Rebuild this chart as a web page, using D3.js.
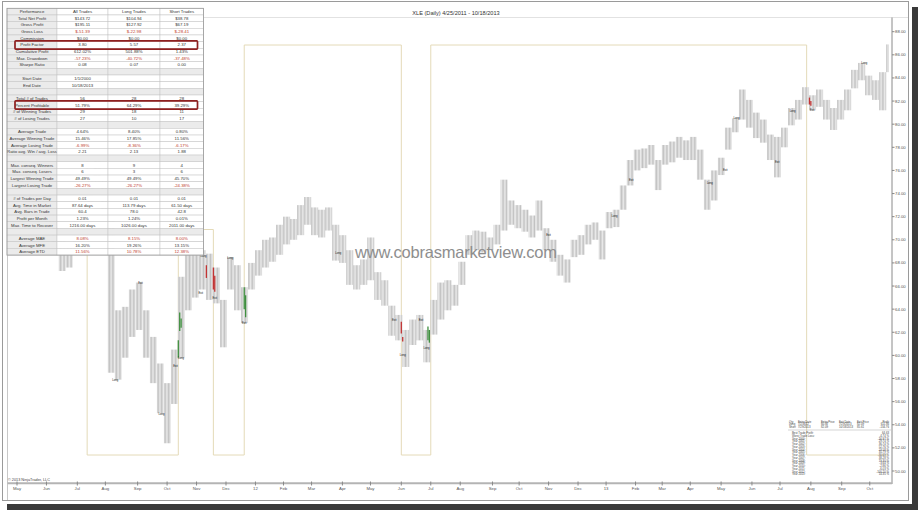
<!DOCTYPE html>
<html><head><meta charset="utf-8">
<script src="https://cdn.jsdelivr.net/npm/d3@7"></script>
<style>
html,body{margin:0;padding:0;background:#fff;}
svg{display:block;font-family:"Liberation Sans",Arial,sans-serif;}
</style></head>
<body><svg id="c" width="920" height="512"></svg>
<script>
(function(){
// ---------------- DATA ----------------
const title = "XLE (Daily) 4/25/2011 - 10/18/2013";
const firstDay = "2011-04-25", lastDay = "2013-10-18";
const holidays = ["2011-05-30","2011-07-04","2011-09-05","2011-11-24","2011-12-26",
 "2012-01-02","2012-01-16","2012-02-20","2012-04-06","2012-05-28","2012-07-04","2012-09-03",
 "2012-10-29","2012-10-30","2012-11-22","2012-12-25",
 "2013-01-01","2013-01-21","2013-02-18","2013-03-29","2013-05-27","2013-07-04","2013-09-02"];
const monthNames = ["Jan","Feb","Mar","Apr","May","Jun","Jul","Aug","Sep","Oct","Nov","Dec"];
const priceTicks = [50,52,54,56,58,60,62,64,66,68,70,72,74,76,78,80,82,84,86,88];

// price bars, one per 5 trading sessions (high / low)
const barHigh = [78.0,77.0,75.0,74.5,74.5,74.0,72.5,70.0,69.8,72.5,75.0,75.5,77.0,75.5,72.0,63.9,
 64.2,65.7,66.3,63.9,61.6,59.3,57.6,60.5,66.8,69.1,69.1,69.1,68.8,67.6,64.8,68.5,67.8,65.9,68.0,
 69.1,70.0,70.2,71.3,72.0,71.8,73.0,73.7,72.8,72.6,72.8,71.3,70.4,69.1,67.8,68.3,70.2,67.2,66.5,
 64.3,63.5,62.2,63.1,63.5,62.2,64.8,66.3,66.5,66.1,68.1,70.4,70.8,70.7,70.2,71.3,75.2,73.4,73.0,
 72.6,72.1,73.4,71.0,70.0,68.7,68.3,70.0,70.4,71.3,71.5,70.8,72.4,72.6,74.7,76.9,77.8,77.9,78.2,
 76.9,78.2,78.5,78.9,78.6,78.9,77.8,75.2,76.0,77.1,79.7,80.5,83.0,82.1,81.0,80.4,79.1,78.9,79.7,
 81.4,82.1,83.2,82.5,83.0,82.1,81.4,82.1,83.0,84.7,85.3,84.2,83.8,84.5,86.9];
const barLow = [76.0,73.5,72.5,72.0,72.5,71.5,69.5,67.3,67.6,69.0,72.0,73.0,74.5,72.0,58.5,57.9,
 59.8,61.6,62.2,59.8,57.6,55.0,52.4,55.8,59.8,63.9,65.0,65.7,64.8,64.5,60.7,65.7,63.9,62.8,65.7,
 66.9,67.6,68.1,68.7,69.6,70.0,70.4,71.3,70.4,70.2,70.8,68.2,68.0,66.1,65.7,66.1,66.5,64.8,64.3,
 61.7,61.3,59.0,60.9,61.3,59.4,61.8,63.1,63.9,64.3,66.1,68.7,69.1,68.9,69.1,69.6,70.8,71.3,71.0,
 70.7,70.2,70.8,69.1,68.1,66.9,66.3,68.5,68.7,69.6,70.0,68.3,71.0,71.1,72.6,74.7,76.0,76.2,76.5,
 74.3,76.5,76.7,77.1,76.9,76.9,75.2,72.6,73.4,75.6,77.8,79.3,80.4,79.7,78.8,78.4,76.9,75.4,78.0,
 79.9,80.4,81.7,81.2,81.5,80.4,79.5,80.4,81.2,83.1,83.8,82.5,82.1,81.2,84.5];

// coloured trade bars: session index, high, low, direction
const tradeBarIdx  = [120,121,122,140,145,146,167,168,279,280,298,299,570,571];
const tradeBarHigh = [61.3,63.7,63.2,67.8,67.6,66.9,65.9,65.2,62.9,61.6,62.5,62.2,82.3,82.0];
const tradeBarLow  = [59.8,62.1,62.4,66.7,65.7,65.5,64.0,63.3,61.9,61.2,61.3,61.1,81.7,81.6];
const tradeBarSide = ["L","L","L","X","X","X","L","L","X","X","L","L","X","X"];

// trade signal labels
const sigIdx   = [75,93,108,118,122,136,138,146,157,167,234,274,280,293,297,384,431,443,499,510,518,547,558,572,609];
const sigPrice = [57.9,66.3,54.9,59.1,59.8,65.4,68.6,65.0,68.4,62.8,68.9,63.1,60.0,63.1,60.6,70.4,72.1,75.2,74.9,76.0,80.5,76.7,81.1,81.2,85.3];

// market position line (1 = long, 0 = flat)
const posDates = ["2011-04-25","2011-07-13","2011-10-13","2011-11-17","2011-12-20","2012-06-01","2012-07-02","2013-07-29"];
const posValue = [1,0,0.55,0,1,0,1,0];

// performance table
const perfLabels = ["Performance","Total Net Profit","Gross Profit","Gross Loss","Commission","Profit Factor","Cumulative Profit","Max. Drawdown","Sharpe Ratio","","Start Date","End Date","","Total # of Trades","Percent Profitable","# of Winning Trades","# of Losing Trades","","Average Trade","Average Winning Trade","Average Losing Trade","Ratio avg. Win / avg. Loss","","Max. conseq. Winners","Max. conseq. Losers","Largest Winning Trade","Largest Losing Trade","","# of Trades per Day","Avg. Time in Market","Avg. Bars in Trade","Profit per Month","Max. Time to Recover","","Average MAE","Average MFE","Average ETD"];
const allTrades = ["All Trades","$143.72","$195.11","$-51.39","$0.00","3.80","612.02%","-57.23%","0.08","","1/1/2000","10/18/2013","","56","51.79%","29","27","","4.64%","15.46%","-6.99%","2.21","","8","6","49.49%","-26.27%","","0.01","87.64 days","60.4","1.23%","1216.00 days","","8.08%","16.20%","11.56%"];
const longTrades = ["Long Trades","$104.94","$127.92","$-22.98","$0.00","5.57","501.88%","-40.72%","0.07","","","","","28","64.29%","18","10","","8.40%","17.85%","-8.36%","2.13","","9","3","49.49%","-26.27%","","0.01","113.79 days","78.0","1.24%","1026.00 days","","8.15%","19.26%","10.78%"];
const shortTrades = ["Short Trades","$38.78","$67.19","$-28.41","$0.00","2.37","1.43%","-37.48%","0.00","","","","","28","39.29%","11","17","","0.80%","11.56%","-6.17%","1.88","","4","6","45.70%","-24.38%","","0.01","61.50 days","42.8","0.01%","2011.00 days","","8.00%","13.15%","12.38%"];
const redRowLabels = ["Gross Loss","Max. Drawdown","Average Losing Trade","Largest Losing Trade","Average MAE","Average ETD"];
const highlightLabels = ["Profit Factor","Percent Profitable"];

// small summary block (bottom right)
const sumHeader = ["Qty","Entry Date","Entry Price","Exit Date","Exit Price","Profit"];
const sumRows = [["Long","7/2/2012","60.82","7/29/2013","82.09","611.86"],["Short","7/29/2013","82.09","10/18/2013","85.61","-134.76"]];
const yearLabels = ["Best Trade Profit","Worst Trade Loss","Year 2000","Year 2001","Year 2002","Year 2003","Year 2004","Year 2005","Year 2006","Year 2007","Year 2008","Year 2009","Year 2010","Year 2011","Year 2012","Year 2013"];
const yearValues = ["64.63","-4.74 %","-16.97 %","29.74 %","36.74 %","52.76 %","23.58 %","35.79 %","-30.69 %","38.28 %","19.30 %","-3.64 %","-2.86 %","-6.03 %","-100.20 %","14.35 %"];

// ---------------- DRAW ----------------
const svg = d3.select("#c");
const parse = d3.utcParse("%Y-%m-%d"), fmt = d3.utcFormat("%Y-%m-%d");
const sessions = [];
for (let d = parse(firstDay); d <= parse(lastDay); d = d3.utcDay.offset(d,1)) {
  const wd = d.getUTCDay();
  if (wd===0 || wd===6 || holidays.includes(fmt(d))) continue;
  sessions.push(d);
}
const idxOf = s => { const t = parse(s); let i = sessions.findIndex(d => d >= t); return i<0?sessions.length-1:i; };
const N = sessions.length;
const x = d3.scaleLinear().domain([0, N-1]).range([10, 888]);
const y = d3.scaleLinear().domain([50, 88]).range([471, 31.7]);
const yPos = d3.scaleLinear().domain([0,1]).range([455, 45]);
const step = x(1)-x(0);

// daily-bar texture pattern
const defs = svg.append("defs");
const pat = defs.append("pattern").attr("id","bars").attr("patternUnits","userSpaceOnUse")
  .attr("x", x(0)-0.4).attr("y",0).attr("width",step).attr("height",4);
pat.append("rect").attr("x",0).attr("y",0).attr("width",step).attr("height",4).attr("fill","#f1f1f1");
pat.append("rect").attr("x",0).attr("y",0).attr("width",0.8).attr("height",4).attr("fill","#c2c2c2");

// frame + shadow
svg.append("rect").attr("x",912).attr("y",7).attr("width",6).attr("height",503).attr("fill","#3a3a3a");
svg.append("rect").attr("x",7).attr("y",504).attr("width",911).attr("height",6).attr("fill","#3a3a3a");
svg.append("rect").attr("x",2.5).attr("y",1.5).attr("width",906).attr("height",499).attr("fill","#fff").attr("stroke","#9a9a9a");
svg.append("line").attr("x1",7.5).attr("x2",7.5).attr("y1",17.5).attr("y2",500).attr("stroke","#c8c8c8");
svg.append("line").attr("x1",7.5).attr("x2",908).attr("y1",17.5).attr("y2",17.5).attr("stroke","#e2e2e2");

// title
svg.append("text").attr("x",456).attr("y",14.5).attr("text-anchor","middle").attr("font-size",5.6).attr("fill","#333").text(title);

// position step line
const posPts = [];
posDates.forEach((d,i)=>{
  const i0 = idxOf(d), i1 = i+1<posDates.length ? idxOf(posDates[i+1]) : N-1;
  posPts.push([x(i0), yPos(posValue[i])], [x(i1), yPos(posValue[i])]);
});
svg.append("path").attr("d", d3.line()(posPts)).attr("fill","none").attr("stroke","#e4dab8").attr("stroke-width",1);

// price bars
const g = svg.append("g");
barHigh.forEach((h,k)=>{
  const i0 = 5*k, i1 = Math.min(5*k+4, N-1);
  g.append("rect").attr("x", x(i0)-0.4).attr("width", x(i1)-x(i0)+step)
    .attr("y", y(h)).attr("height", y(barLow[k])-y(h)).attr("fill","url(#bars)");
});
tradeBarIdx.forEach((i,k)=>{
  g.append("line").attr("x1",x(i)).attr("x2",x(i)).attr("y1",y(tradeBarHigh[k])).attr("y2",y(tradeBarLow[k]))
   .attr("stroke", tradeBarSide[k]==="L" ? "#3f8f3f" : "#c23434").attr("stroke-width",1.3);
});
sigIdx.forEach((i,k)=>{
  g.append("text").attr("x",x(i)).attr("y",y(sigPrice[k])+1).attr("text-anchor","middle")
   .attr("font-size",2.7).attr("fill","#111").text(k%2? "Exit":"Long");
});

// watermark
svg.append("text").attr("x",456).attr("y",258).attr("text-anchor","middle").attr("font-size",16.5)
  .attr("fill","#8e8e8e").attr("textLength",202).text("www.cobrasmarketview.com");

// axes
svg.append("line").attr("x1",892).attr("x2",892).attr("y1",17.5).attr("y2",484).attr("stroke","#8a8a8a");
svg.append("line").attr("x1",7.5).attr("x2",892).attr("y1",483.3).attr("y2",483.3).attr("stroke","#b4b4b4").attr("stroke-width",2);
priceTicks.forEach(v=>{
  svg.append("line").attr("x1",892).attr("x2",894.5).attr("y1",y(v)).attr("y2",y(v)).attr("stroke","#888");
  svg.append("text").attr("x",895).attr("y",y(v)+1.5).attr("font-size",4.3).attr("fill","#555").text(d3.format(".2f")(v));
});
sessions.forEach((d,i)=>{
  if (i===0 || d.getUTCMonth()===sessions[i-1].getUTCMonth()) return;
  const m = d.getUTCMonth();
  const lab = m===0 ? String(d.getUTCFullYear()).slice(2) : monthNames[m];
  svg.append("line").attr("x1",x(i)).attr("x2",x(i)).attr("y1",481.5).attr("y2",485.5).attr("stroke","#888");
  svg.append("text").attr("x",x(i)).attr("y",490).attr("text-anchor","middle").attr("font-size",4.3).attr("fill","#555").text(lab);
});
svg.append("text").attr("x",8).attr("y",481).attr("font-size",3.8).attr("fill","#444").text("© 2013 NinjaTrader, LLC");

// summary block
const sb = svg.append("g").attr("font-size",2.8).attr("fill","#444");
const sx = [789, 798, 821, 839, 857, 889];
sumHeader.forEach((t,j)=> sb.append("text").attr("x",sx[j]).attr("y",422.5).attr("text-anchor", j===5?"end":"start").text(t));
sumRows.forEach((r,i)=> r.forEach((t,j)=> sb.append("text").attr("x",sx[j]).attr("y",425.3+i*2.7).attr("text-anchor", j===5?"end":"start").text(t)));
svg.append("line").attr("x1",788).attr("x2",891).attr("y1",430).attr("y2",430).attr("stroke","#aaa").attr("stroke-width",0.5);
yearLabels.forEach((t,i)=>{
  sb.append("text").attr("x",792).attr("y",434+i*2.75).text(t+":");
  sb.append("text").attr("x",889).attr("y",434+i*2.75).attr("text-anchor","end").text(yearValues[i]);
});

// performance table
const colX = [7, 57, 108, 160, 203.5];
const rowH = 6.67, tTop = 8.3;
const tb = svg.append("g");
perfLabels.forEach((lab,r)=>{
  const yy = tTop + r*rowH;
  const blank = lab==="";
  const vals = [lab, allTrades[r], longTrades[r], shortTrades[r]];
  for (let c=0;c<4;c++){
    tb.append("rect").attr("x",colX[c]).attr("y",yy).attr("width",colX[c+1]-colX[c]).attr("height",rowH)
      .attr("fill", (blank || c===0) ? "#ebebeb" : "#fff").attr("stroke","#c4c4c4").attr("stroke-width",0.5);
    if (vals[c]) {
      const red = c>0 && redRowLabels.includes(lab);
      tb.append("text").attr("x",(colX[c]+colX[c+1])/2).attr("y",yy+rowH/2+1.5).attr("text-anchor","middle")
        .attr("font-size",4.3).attr("fill", red ? "#c0392b" : "#333").text(vals[c]);
    }
  }
});
tb.append("rect").attr("x",colX[0]).attr("y",tTop).attr("width",colX[4]-colX[0]).attr("height",rowH*perfLabels.length)
  .attr("fill","none").attr("stroke","#9a9a9a").attr("stroke-width",0.8);
highlightLabels.forEach(l=>{
  const r = perfLabels.indexOf(l);
  tb.append("rect").attr("x",15).attr("y",tTop + r*rowH - 0.8).attr("width",182.5).attr("height",rowH+1.6)
    .attr("fill","none").attr("stroke","#8e1f1f").attr("stroke-width",1.7).attr("rx",0.8);
});
})();
</script></body></html>
